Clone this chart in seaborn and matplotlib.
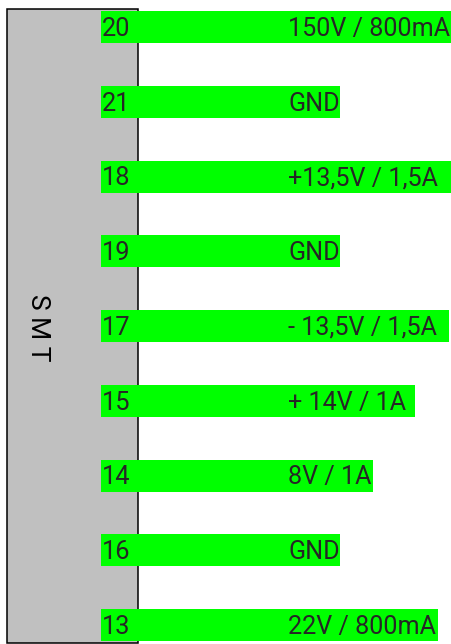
import pandas as pd
import matplotlib.pyplot as plt
import seaborn as sns
from matplotlib.patches import Rectangle

# pin numbers, labels and bar lengths (px from the bar start)
pins = ['20', '21', '18', '19', '17', '15', '14', '16', '13']
labels = ['150V / 800mA', 'GND', '+13,5V / 1,5A', 'GND', '- 13,5V / 1,5A',
          '+ 14V / 1A', '8V / 1A', 'GND', '22V / 800mA']
lengths = [350, 239, 350, 239, 348, 314, 272, 239, 337]

df = pd.DataFrame({'pin': pins, 'label': labels, 'length': lengths})

sns.set_style('white')
plt.rcParams['font.family'] = ['Roboto', 'DejaVu Sans']

W, H = 451, 644
fig = plt.figure(figsize=(W / 100, H / 100), dpi=100)

# background: the grey module block
ax0 = fig.add_axes([0, 0, 1, 1])
ax0.set_xlim(0, W)
ax0.set_ylim(H, 0)
ax0.axis('off')
ax0.add_patch(Rectangle((7, 9), 131, 634, facecolor='#c0c0c0',
                        edgecolor='black', linewidth=1.1))
ax0.text(38, 328, 'S M T', rotation=-90, ha='center', va='center',
         fontsize=19, color='black')

# green pin bars
ax = fig.add_axes([101 / W, 0, 350 / W, 1])
ax.patch.set_alpha(0)
sns.barplot(data=df, x='length', y='pin', orient='h', color='#00ff00',
            saturation=1, width=0.428, linewidth=0, edgecolor='none', ax=ax)
ax.set_xlim(0, 350)
ax.set_ylim(8.254, -0.3612)
ax.axis('off')

for i, row in df.iterrows():
    ax.text(1, i + 0.12, row['pin'], ha='left', va='baseline', fontsize=18.3)
    ax.text(187.5, i + 0.12, row['label'], ha='left', va='baseline', fontsize=18.1)

fig.savefig('out.png', dpi=100)
